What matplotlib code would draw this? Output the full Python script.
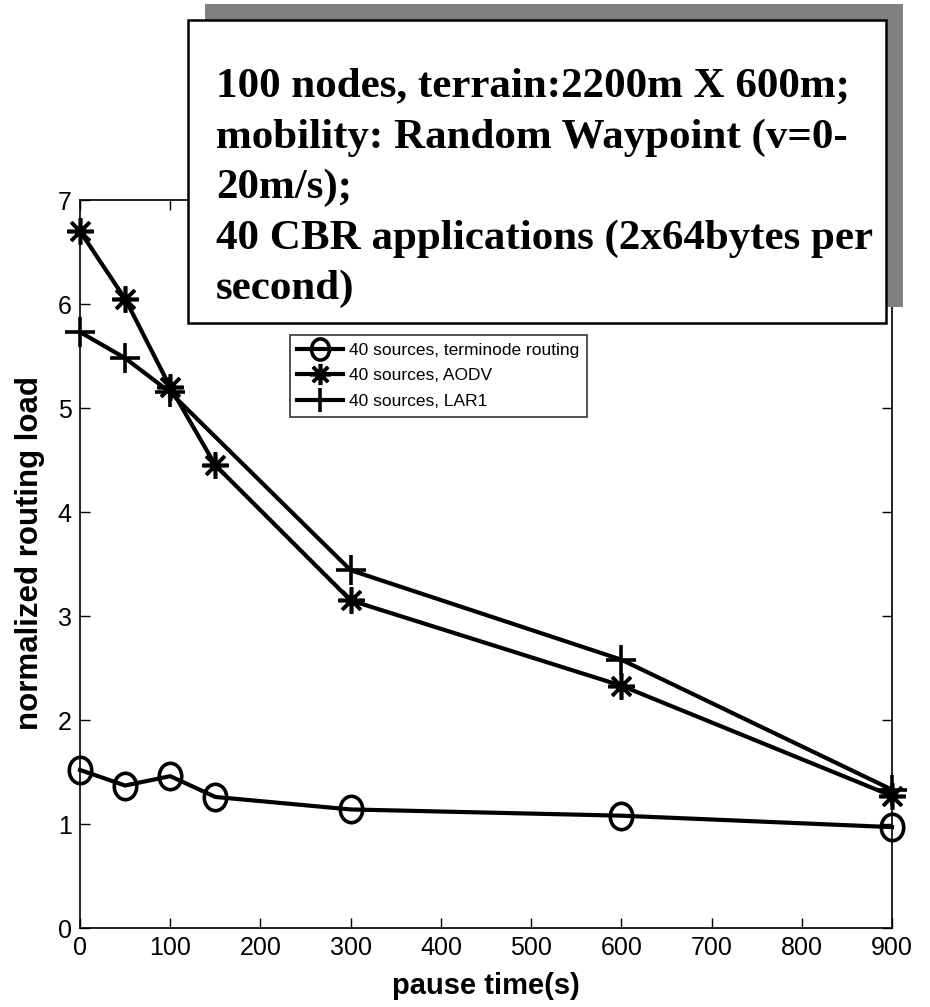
import numpy as np
import matplotlib
matplotlib.use("Agg")
import matplotlib.pyplot as plt
from matplotlib.patches import Rectangle
from matplotlib.path import Path
from matplotlib.markers import MarkerStyle

# -----------------------------
# DATA
# -----------------------------
pause_time = [0, 50, 100, 150, 300, 600, 900]
terminode_load = [1.52, 1.37, 1.46, 1.26, 1.14, 1.08, 0.97]
aodv_load = [6.70, 6.05, 5.20, 4.45, 3.15, 2.33, 1.27]

lar1_pause = [0, 50, 100, 300, 600, 900]
lar1_load = [5.73, 5.48, 5.15, 3.44, 2.58, 1.33]

series_labels = ["40 sources, terminode routing",
                 "40 sources, AODV",
                 "40 sources, LAR1"]

x_ticks = list(range(0, 1000, 100))
y_ticks = list(range(0, 8))

box_lines = ["100 nodes, terrain:2200m X 600m;",
             "mobility: Random Waypoint (v=0-",
             "20m/s);",
             "40 CBR applications (2x64bytes per",
             "second)"]

plt.rcParams['font.family'] = ['Liberation Sans', 'DejaVu Sans']

W, H = 930, 1007
fig = plt.figure(figsize=(W / 100, H / 100), dpi=100)

# axes placed in pixel terms
ax_left, ax_right, ax_top, ax_bottom = 80, 892, 200, 928
ax = fig.add_axes([ax_left / W, 1 - ax_bottom / H,
                   (ax_right - ax_left) / W, (ax_bottom - ax_top) / H])

# slightly tall ellipse, like the stretched circles of the original
circ = Path.unit_circle()
ellipse = Path(circ.vertices * [0.85, 1.0], circ.codes)

line_kw = dict(color="black", lw=3, clip_on=False, zorder=3)
ax.plot(pause_time, terminode_load, marker=MarkerStyle(ellipse), ms=19,
        mfc="none", mew=2.6, label=series_labels[0], **line_kw)
ax.plot(pause_time, aodv_load, marker=(8, 2, 0), ms=19, mew=2.6,
        label=series_labels[1], **line_kw)
ax.plot(lar1_pause, lar1_load, marker="+", ms=22, mew=2.6,
        label=series_labels[2], **line_kw)

ax.set_xlim(0, 900)
ax.set_ylim(0, 7)
ax.set_xticks(x_ticks)
ax.set_yticks(y_ticks)
ax.tick_params(direction="in", length=7, width=1, top=True, right=True,
               labelsize=18, pad=6)
for sp in ax.spines.values():
    sp.set_linewidth(1.2)

ax.set_xlabel("pause time(s)", fontsize=21, fontweight="bold")
ax.set_ylabel("normalized routing load", fontsize=22.5, fontweight="bold")
ax.xaxis.set_label_coords(0.5, -0.06)
ax.yaxis.set_label_coords(-0.043, 0.515)

leg = ax.legend(loc="upper right", bbox_to_anchor=(0.624, 0.815),
                fontsize=12.5, frameon=True, fancybox=False,
                borderaxespad=0, handlelength=2.6, handletextpad=0.35,
                labelspacing=0.6, borderpad=0.45, markerscale=0.8)
leg.get_frame().set_edgecolor("black")
leg.get_frame().set_linewidth(1.2)

# -----------------------------
# ANNOTATION BOX WITH SHADOW
# -----------------------------
bx0, by0, bx1, by1 = 188, 20, 886, 323
shadow = Rectangle(((bx0 + 17) / W, 1 - (by1 - 16) / H),
                   (bx1 - bx0) / W, (by1 - by0) / H,
                   transform=fig.transFigure, facecolor="#808080",
                   edgecolor="none", zorder=5)
box = Rectangle((bx0 / W, 1 - by1 / H), (bx1 - bx0) / W, (by1 - by0) / H,
                transform=fig.transFigure, facecolor="white",
                edgecolor="black", lw=1.8, zorder=6)
fig.patches.extend([shadow, box])

baselines = [97, 148, 198, 249, 299]
for txt, yb in zip(box_lines, baselines):
    fig.text(216 / W, 1 - yb / H, txt, fontsize=31, fontweight="bold",
             family=["Liberation Serif", "DejaVu Serif"], va="baseline",
             ha="left", zorder=7)

fig.savefig("out.png", dpi=100)
